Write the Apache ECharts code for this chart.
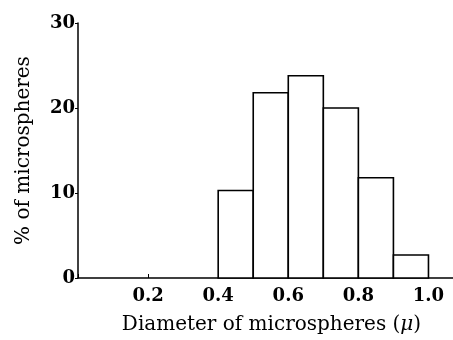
<!DOCTYPE html>
<html>
<head>
<meta charset="utf-8">
<script src="https://cdn.jsdelivr.net/npm/echarts@6/dist/echarts.min.js"></script>
<style>
  html, body { margin: 0; padding: 0; background: #fff; }
  #chart { width: 453px; height: 340px; }
</style>
</head>
<body>
<div id="chart"></div>
<script>
// Histogram bins (diameter in microns) and percentages
const binStarts = [0.4, 0.5, 0.6, 0.7, 0.8, 0.9];
const binEnds = [0.5, 0.6, 0.7, 0.8, 0.9, 1.0];
const percents = [10.3, 21.8, 23.8, 20.0, 11.8, 2.7];

const serif = '"DejaVu Serif", "Liberation Serif", serif';

const chart = echarts.init(document.getElementById('chart'));

const data = binStarts.map((s, i) => [s, binEnds[i], percents[i]]);

chart.setOption({
    animation: false,
    grid: { left: 78, right: 0, top: 23, bottom: 59 },
    xAxis: {
        type: 'value',
        min: 0,
        max: 1.07,
        interval: 0.2,
        name: '{n|Diameter of microspheres (}{i|\u03bc}{n|)}',
        nameLocation: 'middle',
        nameGap: 37,
        nameTextStyle: {
            color: '#000', fontFamily: serif, fontSize: 20, padding: [0, 0, 0, 12],
            rich: {
                n: { color: '#000', fontFamily: serif, fontSize: 20 },
                i: { color: '#000', fontFamily: serif, fontSize: 20, fontStyle: 'italic' }
            }
        },
        axisLine: { lineStyle: { color: '#000', width: 1.5 } },
        axisTick: { inside: true, length: 4, lineStyle: { color: '#000' } },
        splitLine: { show: false },
        axisLabel: {
            color: '#000',
            fontFamily: serif,
            fontWeight: 'bold',
            fontSize: 18,
            margin: 9,
            showMaxLabel: false,
            formatter: v => (v > 0.01 && v < 1.01) ? v.toFixed(1) : ''
        }
    },
    yAxis: {
        type: 'value',
        min: 0,
        max: 30,
        interval: 10,
        name: '% of microspheres',
        nameLocation: 'middle',
        nameGap: 44,
        nameTextStyle: { color: '#000', fontFamily: serif, fontSize: 20 },
        axisLine: { show: true, lineStyle: { color: '#000', width: 1.5 } },
        axisTick: { show: true, length: 3, lineStyle: { color: '#000' } },
        splitLine: { show: false },
        axisLabel: {
            color: '#000',
            fontFamily: serif,
            fontWeight: 'bold',
            fontSize: 18,
            margin: 3
        }
    },
    series: [{
        type: 'custom',
        data: data,
        renderItem: function (params, api) {
            const p0 = api.coord([api.value(0), 0]);
            const p1 = api.coord([api.value(1), api.value(2)]);
            return {
                type: 'rect',
                shape: { x: p0[0], y: p1[1], width: p1[0] - p0[0], height: p0[1] - p1[1] },
                style: { fill: '#fff', stroke: '#000', lineWidth: 1.6 }
            };
        }
    }]
});
</script>
</body>
</html>
